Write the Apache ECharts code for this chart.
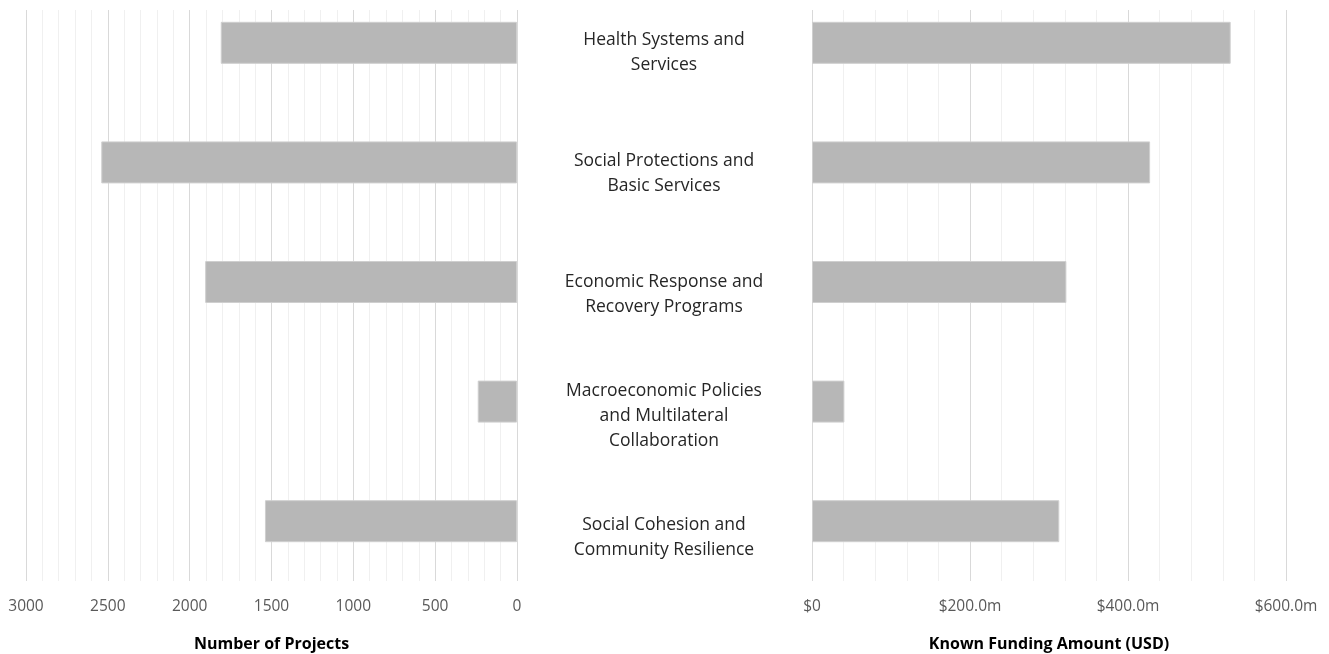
<!DOCTYPE html>
<html>
<head>
<meta charset="utf-8">
<script src="https://cdn.jsdelivr.net/npm/echarts@6/dist/echarts.min.js"></script>
<style>
  html, body { margin: 0; padding: 0; background: #fff; }
  #chart { width: 1329px; height: 654px; }
</style>
</head>
<body>
<div id="chart"></div>
<script>
// categories, top to bottom
const categories = [
  'Health Systems and\nServices',
  'Social Protections and\nBasic Services',
  'Economic Response and\nRecovery Programs',
  'Macroeconomic Policies\nand Multilateral\nCollaboration',
  'Social Cohesion and\nCommunity Resilience'
]
// number of projects (left)
const projectCounts = [1810, 2540, 1905, 240, 1540]
// known funding, millions USD (right)
const fundingMillions = [530, 428, 322, 41, 313]

const FONT = "'Open Sans', 'Noto Sans', sans-serif"
const gridColor = '#d9d9d9'
const minorColor = '#f0f0f0'
const barColor = '#b7b7b7'

const chart = echarts.init(document.getElementById('chart'))

chart.setOption({
  animation: false,
  textStyle: { fontFamily: FONT },
  grid: [
    { left: 26, width: 491, top: -17, height: 598, outerBoundsMode: 'none' },
    { left: 517, width: 295, top: -8, height: 606, outerBoundsMode: 'none' },
    { left: 812, width: 474, top: -17, height: 598, outerBoundsMode: 'none' }
  ],
  xAxis: [
    {
      gridIndex: 0,
      type: 'value',
      inverse: true,
      min: 0,
      max: 3000,
      interval: 500,
      axisLine: { show: false },
      axisTick: { show: false },
      axisLabel: { color: '#595959', fontSize: 15.5, margin: 18, formatter: v => String(v) },
      splitLine: { lineStyle: { color: gridColor } },
      minorTick: { show: false, splitNumber: 5 },
      minorSplitLine: { show: true, lineStyle: { color: minorColor } },
      name: 'Number of Projects',
      nameLocation: 'middle',
      nameGap: 55,
      nameTextStyle: { color: '#000', fontSize: 16, fontWeight: 'bold' }
    },
    {
      gridIndex: 1,
      type: 'value',
      min: 0,
      max: 1,
      show: false
    },
    {
      gridIndex: 2,
      type: 'value',
      min: 0,
      max: 600,
      interval: 200,
      axisLine: { show: false },
      axisTick: { show: false },
      axisLabel: {
        color: '#595959',
        fontSize: 15.5,
        margin: 18,
        formatter: v => v === 0 ? '$0' : '$' + v.toFixed(1) + 'm'
      },
      splitLine: { lineStyle: { color: gridColor } },
      minorTick: { show: false, splitNumber: 5 },
      minorSplitLine: { show: true, lineStyle: { color: minorColor } },
      name: 'Known Funding Amount (USD)',
      nameLocation: 'middle',
      nameGap: 55,
      nameTextStyle: { color: '#000', fontSize: 16, fontWeight: 'bold' }
    }
  ],
  yAxis: [
    {
      gridIndex: 0,
      type: 'category',
      inverse: true,
      data: categories,
      axisLine: { show: false },
      axisTick: { show: false },
      axisLabel: { show: false }
    },
    {
      gridIndex: 1,
      type: 'category',
      inverse: true,
      data: categories,
      axisLine: { show: false },
      axisTick: { show: false },
      axisLabel: {
        color: '#262626',
        fontSize: 17.5,
        lineHeight: 25,
        align: 'center',
        margin: -147
      }
    },
    {
      gridIndex: 2,
      type: 'category',
      inverse: true,
      data: categories,
      axisLine: { show: false },
      axisTick: { show: false },
      axisLabel: { show: false }
    }
  ],
  series: [
    {
      type: 'bar',
      xAxisIndex: 0,
      yAxisIndex: 0,
      data: projectCounts,
      barWidth: 42,
      itemStyle: { color: barColor, borderColor: '#cfcfcf', borderWidth: 1 }
    },
    {
      type: 'bar',
      xAxisIndex: 2,
      yAxisIndex: 2,
      data: fundingMillions,
      barWidth: 42,
      itemStyle: { color: barColor, borderColor: '#cfcfcf', borderWidth: 1 }
    }
  ],
  graphic: [
    {
      type: 'rect',
      z: 100,
      shape: { x: 0, y: 0, width: 1329, height: 10 },
      style: { fill: '#fff' }
    }
  ]
})
</script>
</body>
</html>
